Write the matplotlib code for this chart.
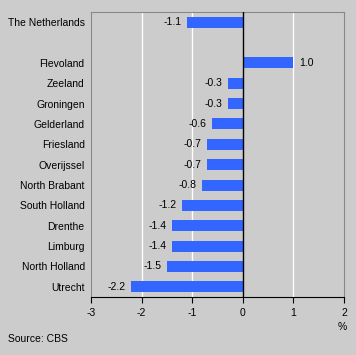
import matplotlib.pyplot as plt

regions = ["The Netherlands", "", "Flevoland", "Zeeland", "Groningen", "Gelderland",
           "Friesland", "Overijssel", "North Brabant", "South Holland", "Drenthe",
           "Limburg", "North Holland", "Utrecht"]
values = [-1.1, None, 1.0, -0.3, -0.3, -0.6, -0.7, -0.7, -0.8, -1.2, -1.4, -1.4, -1.5, -2.2]

plt.rcParams['font.family'] = ['Liberation Sans', 'DejaVu Sans']
plt.rcParams['font.size'] = 7.5

fig = plt.figure(figsize=(3.56, 3.55), dpi=100, facecolor='#cccccc')
ax = fig.add_axes([91/356, 58/355, 253/356, 285/355])
ax.set_facecolor('#cccccc')

ypos = list(range(len(regions)))
for y, v in zip(ypos, values):
    if v is None:
        continue
    ax.barh(y, v, height=0.54, color='#3366ff', zorder=3)
    if v < 0:
        ax.text(v - 0.11, y, f"{v:.1f}", ha='right', va='center', fontsize=7.5)
    else:
        ax.text(v + 0.11, y, f"{v:.1f}", ha='left', va='center', fontsize=7.5)

ax.set_xlim(-3, 2)
ax.set_ylim(13.5, -0.5)
ax.set_xticks([-3, -2, -1, 0, 1, 2])
ax.set_xticklabels(["-3", "-2", "-1", "0", "1", "2"])
ax.set_yticks(ypos)
ax.set_yticklabels(regions)
ax.tick_params(axis='y', length=0, pad=4.5)
ax.tick_params(axis='x', length=4, direction='out', color='black', pad=4)

for g in [-2, -1, 1]:
    ax.axvline(g, color='white', linewidth=1, zorder=1)
ax.axvline(0, color='black', linewidth=1, zorder=4)

for s in ['top', 'right', 'left']:
    ax.spines[s].set_color('#888888')
ax.spines['bottom'].set_color('black')

fig.text(342/356, 1 - 327/355, "%", ha='center', va='center', fontsize=7.5)
fig.text(8/356, 1 - 339/355, "Source: CBS", ha='left', va='center', fontsize=7.5)

fig.savefig("out.png", dpi=100, facecolor='#cccccc')
